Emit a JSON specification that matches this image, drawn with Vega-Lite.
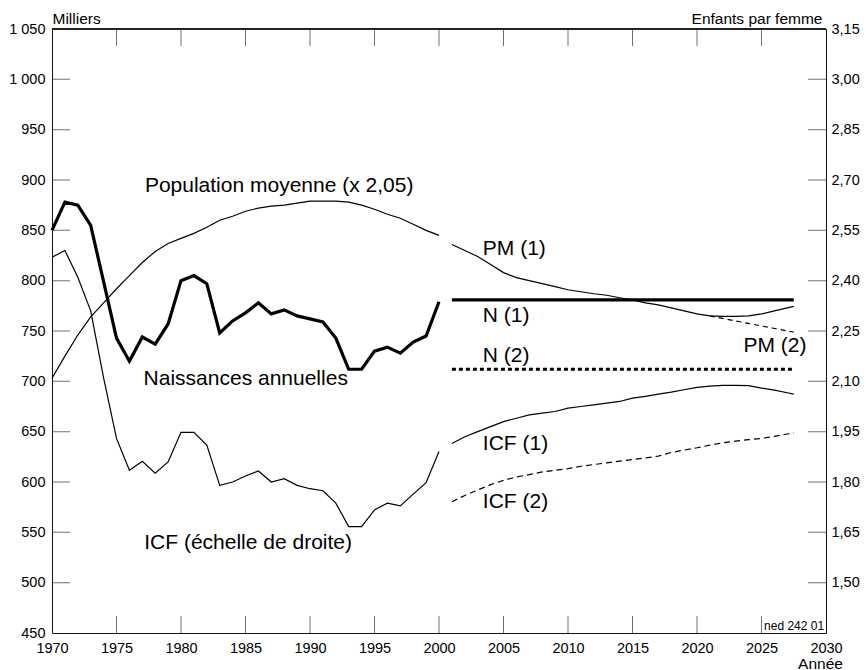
{
  "$schema": "https://vega.github.io/schema/vega-lite/v6.json",
  "width": 774,
  "height": 604,
  "autosize": "none",
  "padding": {"left": 52, "top": 29, "right": 40, "bottom": 37},
  "background": "white",
  "config": {
    "font": "Liberation Sans",
    "view": {"stroke": "#111", "strokeWidth": 1},
    "axis": {
      "grid": false,
      "ticks": false,
      "tickSize": 0,
      "domain": false,
      "labelFont": "Liberation Sans",
      "titleFont": "Liberation Sans",
      "labelColor": "#000",
      "titleColor": "#000",
      "titleFontWeight": "normal",
      "labelFontSize": 14.5,
      "titleFontSize": 15.5
    }
  },
  "datasets": {
    "milliers": [
      {"serie": "Naissances", "year": 1970, "value": 850},
      {"serie": "Naissances", "year": 1971, "value": 878},
      {"serie": "Naissances", "year": 1972, "value": 875},
      {"serie": "Naissances", "year": 1973, "value": 855},
      {"serie": "Naissances", "year": 1974, "value": 799},
      {"serie": "Naissances", "year": 1975, "value": 743},
      {"serie": "Naissances", "year": 1976, "value": 720},
      {"serie": "Naissances", "year": 1977, "value": 744},
      {"serie": "Naissances", "year": 1978, "value": 737},
      {"serie": "Naissances", "year": 1979, "value": 757},
      {"serie": "Naissances", "year": 1980, "value": 800},
      {"serie": "Naissances", "year": 1981, "value": 805},
      {"serie": "Naissances", "year": 1982, "value": 797},
      {"serie": "Naissances", "year": 1983, "value": 748},
      {"serie": "Naissances", "year": 1984, "value": 760},
      {"serie": "Naissances", "year": 1985, "value": 768},
      {"serie": "Naissances", "year": 1986, "value": 778},
      {"serie": "Naissances", "year": 1987, "value": 767},
      {"serie": "Naissances", "year": 1988, "value": 771},
      {"serie": "Naissances", "year": 1989, "value": 765},
      {"serie": "Naissances", "year": 1990, "value": 762},
      {"serie": "Naissances", "year": 1991, "value": 759},
      {"serie": "Naissances", "year": 1992, "value": 743},
      {"serie": "Naissances", "year": 1993, "value": 712},
      {"serie": "Naissances", "year": 1994, "value": 712},
      {"serie": "Naissances", "year": 1995, "value": 730},
      {"serie": "Naissances", "year": 1996, "value": 734},
      {"serie": "Naissances", "year": 1997, "value": 728},
      {"serie": "Naissances", "year": 1998, "value": 739},
      {"serie": "Naissances", "year": 1999, "value": 745},
      {"serie": "Naissances", "year": 2000, "value": 779},
      {"serie": "Population", "year": 1970, "value": 703},
      {"serie": "Population", "year": 1971, "value": 725},
      {"serie": "Population", "year": 1972, "value": 746},
      {"serie": "Population", "year": 1973, "value": 764},
      {"serie": "Population", "year": 1974, "value": 778},
      {"serie": "Population", "year": 1975, "value": 792},
      {"serie": "Population", "year": 1976, "value": 805},
      {"serie": "Population", "year": 1977, "value": 818},
      {"serie": "Population", "year": 1978, "value": 829},
      {"serie": "Population", "year": 1979, "value": 837},
      {"serie": "Population", "year": 1980, "value": 842},
      {"serie": "Population", "year": 1981, "value": 847},
      {"serie": "Population", "year": 1982, "value": 853},
      {"serie": "Population", "year": 1983, "value": 860},
      {"serie": "Population", "year": 1984, "value": 864},
      {"serie": "Population", "year": 1985, "value": 869},
      {"serie": "Population", "year": 1986, "value": 872},
      {"serie": "Population", "year": 1987, "value": 874},
      {"serie": "Population", "year": 1988, "value": 875},
      {"serie": "Population", "year": 1989, "value": 877},
      {"serie": "Population", "year": 1990, "value": 879},
      {"serie": "Population", "year": 1991, "value": 879},
      {"serie": "Population", "year": 1992, "value": 879},
      {"serie": "Population", "year": 1993, "value": 878},
      {"serie": "Population", "year": 1994, "value": 875},
      {"serie": "Population", "year": 1995, "value": 871},
      {"serie": "Population", "year": 1996, "value": 866},
      {"serie": "Population", "year": 1997, "value": 862},
      {"serie": "Population", "year": 1998, "value": 856},
      {"serie": "Population", "year": 1999, "value": 850},
      {"serie": "Population", "year": 2000, "value": 845},
      {"serie": "PM (1)", "year": 2001, "value": 836},
      {"serie": "PM (1)", "year": 2002, "value": 830},
      {"serie": "PM (1)", "year": 2003, "value": 824},
      {"serie": "PM (1)", "year": 2004, "value": 816},
      {"serie": "PM (1)", "year": 2005, "value": 808},
      {"serie": "PM (1)", "year": 2006, "value": 803},
      {"serie": "PM (1)", "year": 2007, "value": 800},
      {"serie": "PM (1)", "year": 2008, "value": 797},
      {"serie": "PM (1)", "year": 2009, "value": 794},
      {"serie": "PM (1)", "year": 2010, "value": 791},
      {"serie": "PM (1)", "year": 2011, "value": 789},
      {"serie": "PM (1)", "year": 2012, "value": 787},
      {"serie": "PM (1)", "year": 2013, "value": 785.5},
      {"serie": "PM (1)", "year": 2014, "value": 783},
      {"serie": "PM (1)", "year": 2015, "value": 781},
      {"serie": "PM (1)", "year": 2016, "value": 778},
      {"serie": "PM (1)", "year": 2017, "value": 776},
      {"serie": "PM (1)", "year": 2018, "value": 773},
      {"serie": "PM (1)", "year": 2019, "value": 770},
      {"serie": "PM (1)", "year": 2020, "value": 767},
      {"serie": "PM (1)", "year": 2021, "value": 765},
      {"serie": "PM (1)", "year": 2022, "value": 764.5},
      {"serie": "PM (1)", "year": 2023, "value": 764.5},
      {"serie": "PM (1)", "year": 2024, "value": 765},
      {"serie": "PM (1)", "year": 2025, "value": 767},
      {"serie": "PM (1)", "year": 2026, "value": 770},
      {"serie": "PM (1)", "year": 2027, "value": 773},
      {"serie": "PM (1)", "year": 2027.5, "value": 774.5},
      {"serie": "PM (2)", "year": 2021, "value": 765},
      {"serie": "PM (2)", "year": 2022, "value": 762.5},
      {"serie": "PM (2)", "year": 2023, "value": 760},
      {"serie": "PM (2)", "year": 2024, "value": 757.5},
      {"serie": "PM (2)", "year": 2025, "value": 755},
      {"serie": "PM (2)", "year": 2026, "value": 752.5},
      {"serie": "PM (2)", "year": 2027, "value": 750},
      {"serie": "PM (2)", "year": 2027.5, "value": 749},
      {"serie": "N (1)", "year": 2001, "value": 781},
      {"serie": "N (1)", "year": 2027.5, "value": 781},
      {"serie": "N (2)", "year": 2001, "value": 712},
      {"serie": "N (2)", "year": 2027.5, "value": 712}
    ],
    "icf": [
      {"serie": "ICF", "year": 1970, "icf": 2.47},
      {"serie": "ICF", "year": 1971, "icf": 2.49},
      {"serie": "ICF", "year": 1972, "icf": 2.41},
      {"serie": "ICF", "year": 1973, "icf": 2.31},
      {"serie": "ICF", "year": 1974, "icf": 2.11},
      {"serie": "ICF", "year": 1975, "icf": 1.93},
      {"serie": "ICF", "year": 1976, "icf": 1.835},
      {"serie": "ICF", "year": 1977, "icf": 1.862},
      {"serie": "ICF", "year": 1978, "icf": 1.826},
      {"serie": "ICF", "year": 1979, "icf": 1.86},
      {"serie": "ICF", "year": 1980, "icf": 1.948},
      {"serie": "ICF", "year": 1981, "icf": 1.948},
      {"serie": "ICF", "year": 1982, "icf": 1.91},
      {"serie": "ICF", "year": 1983, "icf": 1.79},
      {"serie": "ICF", "year": 1984, "icf": 1.8},
      {"serie": "ICF", "year": 1985, "icf": 1.818},
      {"serie": "ICF", "year": 1986, "icf": 1.833},
      {"serie": "ICF", "year": 1987, "icf": 1.8},
      {"serie": "ICF", "year": 1988, "icf": 1.81},
      {"serie": "ICF", "year": 1989, "icf": 1.79},
      {"serie": "ICF", "year": 1990, "icf": 1.78},
      {"serie": "ICF", "year": 1991, "icf": 1.774},
      {"serie": "ICF", "year": 1992, "icf": 1.737},
      {"serie": "ICF", "year": 1993, "icf": 1.667},
      {"serie": "ICF", "year": 1994, "icf": 1.667},
      {"serie": "ICF", "year": 1995, "icf": 1.717},
      {"serie": "ICF", "year": 1996, "icf": 1.737},
      {"serie": "ICF", "year": 1997, "icf": 1.729},
      {"serie": "ICF", "year": 1998, "icf": 1.764},
      {"serie": "ICF", "year": 1999, "icf": 1.798},
      {"serie": "ICF", "year": 2000, "icf": 1.891},
      {"serie": "ICF (1)", "year": 2001, "icf": 1.915},
      {"serie": "ICF (1)", "year": 2002, "icf": 1.935},
      {"serie": "ICF (1)", "year": 2003, "icf": 1.95},
      {"serie": "ICF (1)", "year": 2004, "icf": 1.965},
      {"serie": "ICF (1)", "year": 2005, "icf": 1.98},
      {"serie": "ICF (1)", "year": 2006, "icf": 1.99},
      {"serie": "ICF (1)", "year": 2007, "icf": 2.0},
      {"serie": "ICF (1)", "year": 2008, "icf": 2.005},
      {"serie": "ICF (1)", "year": 2009, "icf": 2.01},
      {"serie": "ICF (1)", "year": 2010, "icf": 2.02},
      {"serie": "ICF (1)", "year": 2011, "icf": 2.025},
      {"serie": "ICF (1)", "year": 2012, "icf": 2.03},
      {"serie": "ICF (1)", "year": 2013, "icf": 2.035},
      {"serie": "ICF (1)", "year": 2014, "icf": 2.04},
      {"serie": "ICF (1)", "year": 2015, "icf": 2.05},
      {"serie": "ICF (1)", "year": 2016, "icf": 2.055},
      {"serie": "ICF (1)", "year": 2017, "icf": 2.062},
      {"serie": "ICF (1)", "year": 2018, "icf": 2.068},
      {"serie": "ICF (1)", "year": 2019, "icf": 2.075},
      {"serie": "ICF (1)", "year": 2020, "icf": 2.082},
      {"serie": "ICF (1)", "year": 2021, "icf": 2.086},
      {"serie": "ICF (1)", "year": 2022, "icf": 2.088},
      {"serie": "ICF (1)", "year": 2023, "icf": 2.088},
      {"serie": "ICF (1)", "year": 2024, "icf": 2.087},
      {"serie": "ICF (1)", "year": 2025, "icf": 2.08},
      {"serie": "ICF (1)", "year": 2026, "icf": 2.074},
      {"serie": "ICF (1)", "year": 2027, "icf": 2.066},
      {"serie": "ICF (1)", "year": 2027.5, "icf": 2.062},
      {"serie": "ICF (2)", "year": 2001, "icf": 1.741},
      {"serie": "ICF (2)", "year": 2002, "icf": 1.76},
      {"serie": "ICF (2)", "year": 2003, "icf": 1.776},
      {"serie": "ICF (2)", "year": 2004, "icf": 1.792},
      {"serie": "ICF (2)", "year": 2005, "icf": 1.805},
      {"serie": "ICF (2)", "year": 2006, "icf": 1.815},
      {"serie": "ICF (2)", "year": 2007, "icf": 1.822},
      {"serie": "ICF (2)", "year": 2008, "icf": 1.83},
      {"serie": "ICF (2)", "year": 2009, "icf": 1.835},
      {"serie": "ICF (2)", "year": 2010, "icf": 1.84},
      {"serie": "ICF (2)", "year": 2011, "icf": 1.847},
      {"serie": "ICF (2)", "year": 2012, "icf": 1.852},
      {"serie": "ICF (2)", "year": 2013, "icf": 1.857},
      {"serie": "ICF (2)", "year": 2014, "icf": 1.862},
      {"serie": "ICF (2)", "year": 2015, "icf": 1.867},
      {"serie": "ICF (2)", "year": 2016, "icf": 1.872},
      {"serie": "ICF (2)", "year": 2017, "icf": 1.877},
      {"serie": "ICF (2)", "year": 2018, "icf": 1.888},
      {"serie": "ICF (2)", "year": 2019, "icf": 1.895},
      {"serie": "ICF (2)", "year": 2020, "icf": 1.902},
      {"serie": "ICF (2)", "year": 2021, "icf": 1.91},
      {"serie": "ICF (2)", "year": 2022, "icf": 1.917},
      {"serie": "ICF (2)", "year": 2023, "icf": 1.922},
      {"serie": "ICF (2)", "year": 2024, "icf": 1.926},
      {"serie": "ICF (2)", "year": 2025, "icf": 1.93},
      {"serie": "ICF (2)", "year": 2026, "icf": 1.936},
      {"serie": "ICF (2)", "year": 2027, "icf": 1.943},
      {"serie": "ICF (2)", "year": 2027.5, "icf": 1.947}
    ],
    "labels": [
      {"label": "Population moyenne (x 2,05)", "year": 1977.2, "value": 888},
      {"label": "Naissances annuelles", "year": 1977.1, "value": 696},
      {"label": "ICF (échelle de droite)", "year": 1977.15, "value": 533.5},
      {"label": "PM (1)", "year": 2003.4, "value": 825.5},
      {"label": "N (1)", "year": 2003.4, "value": 759.3},
      {"label": "N (2)", "year": 2003.4, "value": 719.5},
      {"label": "ICF (1)", "year": 2003.4, "value": 631.8},
      {"label": "ICF (2)", "year": 2003.4, "value": 574},
      {"label": "PM (2)", "year": 2023.6, "value": 729.4}
    ],
    "source": [
      {"label": "ned 242 01", "year": 2025.2, "value": 452.5}
    ],
    "graduations_annees": [
      {"year": 1975}, {"year": 1980}, {"year": 1985}, {"year": 1990}, {"year": 1995}, {"year": 2000},
      {"year": 2005}, {"year": 2010}, {"year": 2015}, {"year": 2020}, {"year": 2025}
    ],
    "graduations_milliers": [
      {"value": 500}, {"value": 550}, {"value": 600}, {"value": 650}, {"value": 700}, {"value": 750},
      {"value": 800}, {"value": 850}, {"value": 900}, {"value": 950}, {"value": 1000}
    ]
  },
  "resolve": {"scale": {"y": "independent"}, "axis": {"x": "independent"}},
  "layer": [
    {
      "data": {"name": "milliers"},
      "transform": [{"filter": {"field": "serie", "oneOf": ["Population", "PM (1)"]}}],
      "mark": {"type": "line", "color": "#000", "strokeWidth": 1.2},
      "encoding": {
        "x": {
          "field": "year",
          "type": "quantitative",
          "scale": {"domain": [1970, 2030], "nice": false, "zero": false},
          "axis": {
            "orient": "bottom",
            "values": [1970, 1975, 1980, 1985, 1990, 1995, 2000, 2005, 2010, 2015, 2020, 2025, 2030],
            "format": "d",
            "labelPadding": 8,
            "labelFlush": false,
            "title": "Année",
            "titleX": 768,
            "titleY": 35,
            "titleAlign": "center",
            "titleBaseline": "alphabetic"
          }
        },
        "y": {
          "field": "value",
          "type": "quantitative",
          "scale": {"domain": [450, 1050], "nice": false, "zero": false},
          "axis": {
            "orient": "left",
            "values": [450, 500, 550, 600, 650, 700, 750, 800, 850, 900, 950, 1000, 1050],
            "labelExpr": "datum.value >= 1000 ? '1 ' + format(datum.value - 1000, '03d') : format(datum.value, 'd')",
            "labelPadding": 7,
            "labelFlush": false,
            "title": "Milliers",
            "titleAngle": 0,
            "titleAlign": "left",
            "titleBaseline": "alphabetic",
            "titleX": 0,
            "titleY": -6
          }
        },
        "detail": {"field": "serie"}
      }
    },
    {
      "data": {"name": "milliers"},
      "transform": [{"filter": {"field": "serie", "equal": "PM (2)"}}],
      "mark": {"type": "line", "color": "#000", "strokeWidth": 1.2, "strokeDash": [5, 4]},
      "encoding": {
        "x": {"field": "year", "type": "quantitative", "scale": {"domain": [1970, 2030], "nice": false, "zero": false}, "axis": null},
        "y": {"field": "value", "type": "quantitative", "scale": {"domain": [450, 1050], "nice": false, "zero": false}, "axis": null},
        "detail": {"field": "serie"}
      }
    },
    {
      "data": {"name": "milliers"},
      "transform": [{"filter": {"field": "serie", "oneOf": ["Naissances", "N (1)"]}}],
      "mark": {"type": "line", "color": "#000", "strokeWidth": 3.2},
      "encoding": {
        "x": {"field": "year", "type": "quantitative", "scale": {"domain": [1970, 2030], "nice": false, "zero": false}, "axis": null},
        "y": {"field": "value", "type": "quantitative", "scale": {"domain": [450, 1050], "nice": false, "zero": false}, "axis": null},
        "detail": {"field": "serie"}
      }
    },
    {
      "data": {"name": "milliers"},
      "transform": [{"filter": {"field": "serie", "equal": "N (2)"}}],
      "mark": {"type": "line", "color": "#000", "strokeWidth": 3.2, "strokeDash": [4, 3]},
      "encoding": {
        "x": {"field": "year", "type": "quantitative", "scale": {"domain": [1970, 2030], "nice": false, "zero": false}, "axis": null},
        "y": {"field": "value", "type": "quantitative", "scale": {"domain": [450, 1050], "nice": false, "zero": false}, "axis": null},
        "detail": {"field": "serie"}
      }
    },
    {
      "data": {"name": "icf"},
      "transform": [{"filter": {"field": "serie", "oneOf": ["ICF", "ICF (1)"]}}],
      "mark": {"type": "line", "color": "#000", "strokeWidth": 1.2},
      "encoding": {
        "x": {"field": "year", "type": "quantitative", "scale": {"domain": [1970, 2030], "nice": false, "zero": false}, "axis": null},
        "y": {
          "field": "icf",
          "type": "quantitative",
          "scale": {"domain": [1.35, 3.15], "nice": false, "zero": false},
          "axis": {
            "orient": "right",
            "values": [1.5, 1.65, 1.8, 1.95, 2.1, 2.25, 2.4, 2.55, 2.7, 2.85, 3.0, 3.15],
            "labelExpr": "replace(format(datum.value, '.2f'), '.', ',')",
            "labelPadding": 5,
            "labelFlush": false,
            "title": "Enfants par femme",
            "titleAngle": 0,
            "titleAlign": "right",
            "titleBaseline": "alphabetic",
            "titleX": -4,
            "titleY": -6
          }
        },
        "detail": {"field": "serie"}
      }
    },
    {
      "data": {"name": "icf"},
      "transform": [{"filter": {"field": "serie", "equal": "ICF (2)"}}],
      "mark": {"type": "line", "color": "#000", "strokeWidth": 1.2, "strokeDash": [6, 4]},
      "encoding": {
        "x": {"field": "year", "type": "quantitative", "scale": {"domain": [1970, 2030], "nice": false, "zero": false}, "axis": null},
        "y": {"field": "icf", "type": "quantitative", "scale": {"domain": [1.35, 3.15], "nice": false, "zero": false}, "axis": null},
        "detail": {"field": "serie"}
      }
    },
    {
      "data": {"name": "graduations_annees"},
      "mark": {"type": "tick", "orient": "vertical", "size": 34, "thickness": 1, "color": "#333", "clip": true},
      "encoding": {
        "x": {"field": "year", "type": "quantitative", "scale": {"domain": [1970, 2030], "nice": false, "zero": false}, "axis": null},
        "y": {"datum": 450, "type": "quantitative", "scale": {"domain": [450, 1050], "nice": false, "zero": false}, "axis": null}
      }
    },
    {
      "data": {"name": "graduations_annees"},
      "mark": {"type": "tick", "orient": "vertical", "size": 34, "thickness": 1, "color": "#333", "clip": true},
      "encoding": {
        "x": {"field": "year", "type": "quantitative", "scale": {"domain": [1970, 2030], "nice": false, "zero": false}, "axis": null},
        "y": {"datum": 1050, "type": "quantitative", "scale": {"domain": [450, 1050], "nice": false, "zero": false}, "axis": null}
      }
    },
    {
      "data": {"name": "graduations_milliers"},
      "mark": {"type": "tick", "orient": "horizontal", "size": 36, "thickness": 1, "color": "#333", "clip": true},
      "encoding": {
        "x": {"datum": 1970, "type": "quantitative", "scale": {"domain": [1970, 2030], "nice": false, "zero": false}, "axis": null},
        "y": {"field": "value", "type": "quantitative", "scale": {"domain": [450, 1050], "nice": false, "zero": false}, "axis": null}
      }
    },
    {
      "data": {"name": "graduations_milliers"},
      "mark": {"type": "tick", "orient": "horizontal", "size": 36, "thickness": 1, "color": "#333", "clip": true},
      "encoding": {
        "x": {"datum": 2030, "type": "quantitative", "scale": {"domain": [1970, 2030], "nice": false, "zero": false}, "axis": null},
        "y": {"field": "value", "type": "quantitative", "scale": {"domain": [450, 1050], "nice": false, "zero": false}, "axis": null}
      }
    },
    {
      "data": {"name": "graduations_milliers"},
      "mark": {"type": "rule", "color": "#222", "strokeWidth": 1},
      "encoding": {
        "y": {"datum": 1050, "type": "quantitative", "scale": {"domain": [450, 1050], "nice": false, "zero": false}, "axis": null}
      }
    },
    {
      "data": {"name": "labels"},
      "mark": {"type": "text", "align": "left", "baseline": "alphabetic", "font": "Liberation Sans", "fontSize": 21, "color": "#000"},
      "encoding": {
        "x": {"field": "year", "type": "quantitative", "scale": {"domain": [1970, 2030], "nice": false, "zero": false}, "axis": null},
        "y": {"field": "value", "type": "quantitative", "scale": {"domain": [450, 1050], "nice": false, "zero": false}, "axis": null},
        "text": {"field": "label"}
      }
    },
    {
      "data": {"name": "source"},
      "mark": {"type": "text", "align": "left", "baseline": "alphabetic", "font": "Liberation Sans", "fontSize": 12, "color": "#000"},
      "encoding": {
        "x": {"field": "year", "type": "quantitative", "scale": {"domain": [1970, 2030], "nice": false, "zero": false}, "axis": null},
        "y": {"field": "value", "type": "quantitative", "scale": {"domain": [450, 1050], "nice": false, "zero": false}, "axis": null},
        "text": {"field": "label"}
      }
    }
  ]
}
